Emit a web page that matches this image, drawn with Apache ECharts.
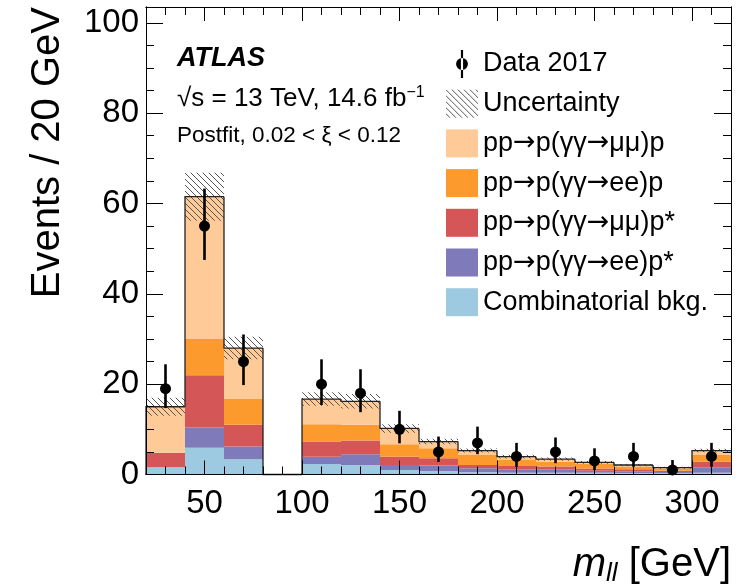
<!DOCTYPE html>
<html>
<head>
<meta charset="utf-8">
<script src="https://cdn.jsdelivr.net/npm/echarts@6/dist/echarts.min.js"></script>
<style>
  html, body { margin: 0; padding: 0; background: #fff; }
  #main { width: 753px; height: 586px; }
</style>
</head>
<body>
<div id="main"></div>
<script>
// bin edges in GeV (20 GeV bins)
const binEdges = [20, 40, 60, 80, 100, 120, 140, 160, 180, 200, 220, 240, 260, 280, 300, 320];

// stacked prediction, bottom to top
const combBkg     = [1.6, 5.9, 3.4, 0, 2.3, 2.1, 1.0, 0.8, 0.5, 0.4, 0.4, 0.4, 0.33, 0.25, 0.4];
const eeDiss      = [0, 4.5, 2.8, 0, 1.65, 2.4, 1.1, 1.2, 0.9, 0.75, 0.75, 0.45, 0.37, 0.3, 1.2];
const mumuDiss    = [3.2, 11.6, 4.8, 0, 3.35, 3.0, 1.85, 1.6, 0.7, 0.75, 0.6, 0.5, 0.45, 0.3, 1.25];
const eeElastic   = [0, 8.0, 5.7, 0, 3.8, 3.5, 2.75, 2.2, 2.2, 1.3, 1.1, 0.95, 0.6, 0.45, 1.6];
const mumuElastic = [10.2, 31.5, 11.3, 0, 5.6, 5.2, 3.5, 1.5, 1.0, 0.75, 0.55, 0.4, 0.35, 0.2, 0.85];
const totalUnc    = [2.0, 5.3, 2.5, 0, 1.5, 1.6, 0.95, 0.6, 0.45, 0.4, 0.35, 0.3, 0.25, 0.2, 0.4];

// data 2017 with error bar ends
const dataCounts = [19, 55, 25, null, 20, 18, 10, 5, 7, 4, 5, 3, 4, 1, 4];
const dataHigh   = [24.4, 63.3, 31.0, null, 25.5, 23.3, 14.1, 8.4, 10.6, 7.0, 8.2, 5.8, 7.0, 3.2, 7.0];
const dataLow    = [14.7, 47.5, 19.8, null, 15.4, 13.8, 6.9, 2.8, 4.5, 1.7, 2.5, 1.0, 1.7, 0.17, 1.7];

// axis ticks
const xMajorTicks = [50, 100, 150, 200, 250, 300];
const yMajorTicks = [0, 20, 40, 60, 80, 100];

const FONT = '"Liberation Sans", Arial, Helvetica, sans-serif';

const components = [
  { name: 'Combinatorial bkg.', values: combBkg, color: '#9ecae1' },
  { name: 'pp\u2192p(\u03b3\u03b3\u2192ee)p*', values: eeDiss, color: '#7f7bbb' },
  { name: 'pp\u2192p(\u03b3\u03b3\u2192\u03bc\u03bc)p*', values: mumuDiss, color: '#d55656' },
  { name: 'pp\u2192p(\u03b3\u03b3\u2192ee)p', values: eeElastic, color: '#fc9a2e' },
  { name: 'pp\u2192p(\u03b3\u03b3\u2192\u03bc\u03bc)p', values: mumuElastic, color: '#fdca98' }
];

function makeHatch() {
  const c = document.createElement('canvas');
  c.width = 6; c.height = 6;
  const g = c.getContext('2d');
  g.strokeStyle = '#555';
  g.lineWidth = 1;
  g.beginPath();
  g.moveTo(-1, -1); g.lineTo(7, 7);
  g.moveTo(-1, 5); g.lineTo(1, 7);
  g.moveTo(5, -1); g.lineTo(7, 1);
  g.stroke();
  return c;
}
const hatch = { image: makeHatch(), repeat: 'repeat' };

function rectRender(params, api) {
  const tl = api.coord([api.value(0), api.value(3)]);
  const br = api.coord([api.value(1), api.value(2)]);
  return {
    type: 'rect',
    shape: { x: tl[0], y: tl[1], width: br[0] - tl[0], height: br[1] - tl[1] },
    style: api.style()
  };
}

// build stacked series
const nBins = binEdges.length - 1;
const cum = new Array(nBins).fill(0);
const series = [];
components.forEach(function (comp) {
  const d = [];
  for (let i = 0; i < nBins; i++) {
    const v = comp.values[i];
    if (v > 0) d.push([binEdges[i], binEdges[i + 1], cum[i], cum[i] + v]);
    cum[i] += v;
  }
  series.push({
    name: comp.name,
    type: 'custom',
    renderItem: rectRender,
    encode: { x: [0, 1], y: [2, 3] },
    itemStyle: { color: comp.color },
    data: d,
    z: 2
  });
});

// uncertainty band
const uncData = [];
for (let i = 0; i < nBins; i++) {
  if (totalUnc[i] > 0) uncData.push([binEdges[i], binEdges[i + 1], cum[i] - totalUnc[i], cum[i] + totalUnc[i]]);
}
series.push({
  name: 'Uncertainty',
  type: 'custom',
  itemStyle: { color: hatch },
  renderItem: function (params, api) {
    const tl = api.coord([api.value(0), api.value(3)]);
    const br = api.coord([api.value(1), api.value(2)]);
    return {
      type: 'rect',
      shape: { x: tl[0], y: tl[1], width: br[0] - tl[0], height: br[1] - tl[1] },
      style: { fill: hatch, stroke: null }
    };
  },
  encode: { x: [0, 1], y: [2, 3] },
  data: uncData,
  z: 3
});

// outline of the total
const outline = [];
for (let i = 0; i < nBins; i++) {
  outline.push([binEdges[i], binEdges[i + 1], cum[i], i > 0 ? cum[i - 1] : 0]);
}
series.push({
  type: 'custom',
  renderItem: function (params, api) {
    const a = api.coord([api.value(0), api.value(3)]);
    const b = api.coord([api.value(0), api.value(2)]);
    const c = api.coord([api.value(1), api.value(2)]);
    return {
      type: 'polyline',
      shape: { points: [a, b, c] },
      style: { stroke: '#222', lineWidth: 1.3, fill: null }
    };
  },
  encode: { x: [0, 1], y: [2, 3] },
  data: outline,
  silent: true,
  z: 4
});

// data error bars and markers
const errData = [];
const pts = [];
for (let i = 0; i < nBins; i++) {
  if (dataCounts[i] == null) continue;
  const xc = (binEdges[i] + binEdges[i + 1]) / 2;
  errData.push([xc, dataLow[i], dataHigh[i]]);
  pts.push([xc, dataCounts[i]]);
}
series.push({
  type: 'custom',
  renderItem: function (params, api) {
    const lo = api.coord([api.value(0), api.value(1)]);
    const hi = api.coord([api.value(0), api.value(2)]);
    return {
      type: 'line',
      shape: { x1: lo[0], y1: lo[1], x2: hi[0], y2: hi[1] },
      style: { stroke: '#000', lineWidth: 2.6 }
    };
  },
  encode: { x: 0, y: [1, 2] },
  data: errData,
  silent: true,
  z: 5
});
series.push({
  name: 'Data 2017',
  type: 'scatter',
  symbol: 'circle',
  symbolSize: 11,
  itemStyle: { color: '#000', opacity: 1 },
  data: pts,
  z: 6
});

const axisLine = { show: true, onZero: false, lineStyle: { color: '#000', width: 1 } };
const tickStyle = { color: '#000', width: 1 };

function xAx(pos, major) {
  const ax = {
    type: 'value', position: pos, min: 20, max: 320, z: 10,
    axisLine: axisLine, splitLine: { show: false },
    axisTick: { inside: true, length: major ? 14 : 8, lineStyle: tickStyle },
    axisLabel: { show: false }
  };
  if (major) {
    ax.axisTick.customValues = xMajorTicks;
    if (pos === 'bottom') {
      ax.axisLabel = { show: true, customValues: xMajorTicks, fontSize: 33, fontFamily: FONT, color: '#000', margin: 13 };
    }
  } else {
    ax.interval = 10;
  }
  return ax;
}
function yAx(pos, major) {
  const ax = {
    type: 'value', position: pos, min: 0, max: 103.5, z: 10,
    axisLine: axisLine, splitLine: { show: false },
    axisTick: { inside: true, length: major ? 17 : 8, lineStyle: tickStyle },
    axisLabel: { show: false }
  };
  if (major) {
    ax.axisTick.customValues = yMajorTicks;
    if (pos === 'left') {
      ax.axisLabel = { show: true, customValues: yMajorTicks, fontSize: 33, fontFamily: FONT, color: '#000', margin: 7 };
    }
  } else {
    ax.interval = 5;
  }
  return ax;
}

const chart = echarts.init(document.getElementById('main'));
chart.setOption({
  animation: false,
  backgroundColor: '#fff',
  grid: { left: 146, right: 22, top: 7, bottom: 111.5 },
  xAxis: [xAx('bottom', true), xAx('bottom', false), xAx('top', true), xAx('top', false)],
  yAxis: [yAx('left', true), yAx('left', false), yAx('right', true), yAx('right', false)],
  legend: {
    orient: 'vertical',
    left: 441,
    top: 45,
    itemWidth: 32,
    itemHeight: 28,
    itemGap: 11.7,
    icon: 'rect',
    selectedMode: false,
    formatter: function (name) { return name.replace(/\u2192/g, '{a|\u2192}'); },
    textStyle: {
      fontSize: 27, color: '#000', fontFamily: FONT,
      rich: { a: { fontSize: 27, color: '#000', fontFamily: '"DejaVu Sans", sans-serif' } }
    },
    data: [
      { name: 'Data 2017', icon: 'path://M10,0 h2 v26 h-2 Z M5.5,13 a5.5,5.5 0 1 0 11,0 a5.5,5.5 0 1 0 -11,0 Z' },
      'Uncertainty',
      components[4].name,
      components[3].name,
      components[2].name,
      components[1].name,
      components[0].name
    ]
  },
  graphic: [
    {
      type: 'text', x: 177, y: 59,
      style: { text: 'ATLAS', fontSize: 27, fontWeight: 'bold', fontStyle: 'italic', fontFamily: FONT, fill: '#000', verticalAlign: 'middle' }
    },
    {
      type: 'text', x: 177, y: 99,
      style: {
        text: '\u221as = 13 TeV, 14.6 fb{sup|\u22121}', fontSize: 26, fontFamily: FONT, fill: '#000', verticalAlign: 'middle',
        rich: { sup: { fontSize: 16, fontFamily: FONT, padding: [0, 0, 12, 0] } }
      }
    },
    {
      type: 'text', x: 177, y: 136,
      style: { text: 'Postfit, 0.02 < \u03be < 0.12', fontSize: 22.5, fontFamily: FONT, fill: '#000', verticalAlign: 'middle' }
    },
    {
      type: 'text', x: 48, y: 7, rotation: Math.PI / 2,
      style: { text: 'Events / 20 GeV', fontSize: 40, fontFamily: FONT, fill: '#000', align: 'right', verticalAlign: 'middle' }
    },
    {
      type: 'text', x: 731, y: 565,
      style: {
        text: '{m|m}{s|ll} [GeV]', fontSize: 40, fontFamily: FONT, fill: '#000', align: 'right', verticalAlign: 'middle',
        rich: {
          m: { fontSize: 40, fontStyle: 'italic', fontFamily: FONT },
          s: { fontSize: 26, fontStyle: 'italic', fontFamily: FONT, padding: [18, 0, 0, 0] }
        }
      }
    }
  ],
  series: series
});
window.addEventListener('resize', function () { chart.resize(); });
</script>
</body>
</html>
